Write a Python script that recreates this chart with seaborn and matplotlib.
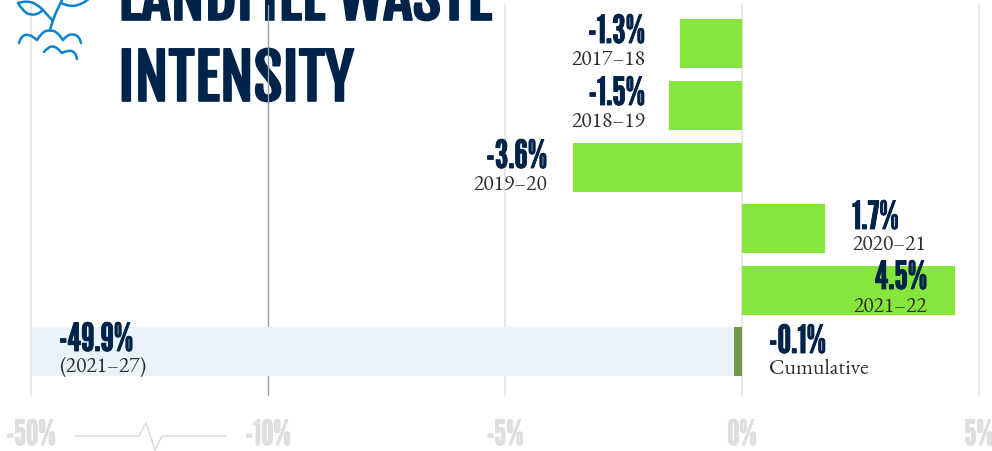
import matplotlib
matplotlib.use('Agg')
import matplotlib.pyplot as plt
import matplotlib.patheffects as pe
from matplotlib.patches import PathPatch
from matplotlib.path import Path
from matplotlib.transforms import Affine2D
import logging
import numpy as np
import pandas as pd
import seaborn as sns

logging.getLogger('matplotlib.font_manager').setLevel(logging.ERROR)

periods = ['2017–18', '2018–19', '2019–20', '2020–21', '2021–22']
changes = [-1.31, -1.54, -3.57, 1.75, 4.49]
change_labels = ['-1.3%', '-1.5%', '-3.6%', '1.7%', '4.5%']
target_value = -49.9
cumulative_value = -0.17
tick_values = [-50, -10, -5, 0, 5]
tick_labels = ['-50%', '-10%', '-5%', '0%', '5%']

NAVY = '#00234a'
COND = ['League Gothic', 'Bebas Neue', 'Liberation Sans', 'DejaVu Sans']
HEAD = ['Fjalla One', 'Bebas Neue', 'Liberation Sans', 'DejaVu Sans']
SERIF = ['EB Garamond', 'Liberation Serif', 'DejaVu Serif']
W, H = 992, 452

sns.set_style('white')


def forward(x):
    x = np.asarray(x, dtype=float)
    return np.where(x < -10, -10 + (x + 10) / 8, x)


def inverse(x):
    x = np.asarray(x, dtype=float)
    return np.where(x < -10, -10 + (x + 10) * 8, x)


def smooth(points):
    # quadratic curve through the midpoints of the given points
    verts, codes = [points[0]], [Path.MOVETO]
    for a, b in zip(points[1:-1], points[2:]):
        verts += [a, ((a[0] + b[0]) / 2, (a[1] + b[1]) / 2)]
        codes += [Path.CURVE3, Path.CURVE3]
    verts.append(points[-1])
    codes.append(Path.LINETO)
    return Path(verts, codes)


def heavy(color, width=0.6):
    return [pe.withStroke(linewidth=width, foreground=color)]


fig = plt.figure(figsize=(W / 100, H / 100), dpi=100, facecolor='white')
ax = fig.add_axes([31 / W, (H - 396) / H, 948 / W, 390 / H], facecolor='none')
px = Affine2D().scale(1, -1).translate(0, H)

rows = periods + ['Cumulative']
df = pd.DataFrame({'period': periods, 'change': changes})
target = pd.DataFrame({'period': ['Cumulative'], 'change': [target_value]})
cumulative = pd.DataFrame({'period': ['Cumulative'], 'change': [cumulative_value]})

sns.barplot(data=df, x='change', y='period', order=rows, color='#86e63c', width=0.795,
            saturation=1, linewidth=0, ax=ax, zorder=3)
sns.barplot(data=target, x='change', y='period', order=rows, color='#eaf3f9', width=0.795,
            saturation=1, linewidth=0, ax=ax, zorder=3)
sns.barplot(data=cumulative, x='change', y='period', order=rows, color='#6f9b47', width=0.795,
            saturation=1, linewidth=0, ax=ax, zorder=4)

ax.set_xscale('function', functions=(forward, inverse))
ax.set_xlim(-50, 5)
ax.set_ylim(5.70, -0.63)
ax.set_xticks(tick_values)
ax.set_xticklabels(tick_labels, fontsize=25, family=COND, color='#dcdee0',
                   path_effects=heavy('#dcdee0', 0.7))
ax.minorticks_off()
ax.set_yticks([])
ax.set_xlabel('')
ax.set_ylabel('')
ax.tick_params(axis='x', length=0, pad=18)
ax.grid(axis='x', color='#e3e3e6', lw=1.2, zorder=1)
ax.set_axisbelow(True)
for line in ax.xaxis.get_gridlines():
    line.set_clip_on(False)
ax.xaxis.get_gridlines()[1].set_color('#9a9bb0')
ax.xaxis.get_gridlines()[1].set_linewidth(1)
sns.despine(ax=ax, left=True, bottom=True)

# value + period labels, pixel anchors
label_anchor = [(645, 'right'), (645, 'right'), (547, 'right'), (852, 'left'), (927, 'right')]
row_y = [44, 106, 169, 230, 290]
sub_y = [65, 127, 190, 250, 312]
for lab, per, (lx, ha), y, y2 in zip(change_labels, periods, label_anchor, row_y, sub_y):
    ax.text(lx, y, lab, transform=px, ha=ha, va='baseline', fontsize=28, family=COND, color=NAVY,
            zorder=6, path_effects=heavy(NAVY))
    ax.text(lx, y2, per, transform=px, ha=ha, va='baseline', fontsize=15.5, family=SERIF,
            color='#2e2e2e', zorder=6)
ax.text(59, 352, '-49.9%', transform=px, va='baseline', fontsize=28, family=COND, color=NAVY,
        zorder=6, path_effects=heavy(NAVY))
ax.text(59, 372, '(2021–27)', transform=px, va='baseline', fontsize=15.5, family=SERIF,
        color='#2e2e2e', zorder=6)
ax.text(769, 354, '-0.1%', transform=px, va='baseline', fontsize=28, family=COND, color=NAVY,
        zorder=6, path_effects=heavy(NAVY))
ax.text(769, 374, 'Cumulative', transform=px, va='baseline', fontsize=15.7, family=SERIF,
        color='#2e2e2e', zorder=6)

# title sits under the grid lines and runs off the top
fig.text(118, 21, 'LANDFILL WASTE', transform=px, va='baseline', fontsize=45, family=HEAD,
         color=NAVY, zorder=-1, path_effects=heavy(NAVY, 1.2))
fig.text(118, 102, 'INTENSITY', transform=px, va='baseline', fontsize=45, family=HEAD,
         color=NAVY, zorder=-1, path_effects=heavy(NAVY, 1.2))

# sapling icon and axis break
deco = fig.add_axes([0, 0, 1, 1], facecolor='none', zorder=5)
deco.set_xlim(0, W)
deco.set_ylim(H, 0)
deco.axis('off')
icon = [
    [(50, 31), (53, 20), (60, 5), (63, -1)],
    [(52, 21), (43, 11)],
    [(43, 11), (37, 5), (27, 2), (18, 4)],
    [(18, 4), (23, 12), (30, 16), (38, 15), (43, 11)],
    [(61, 4), (70, 8), (82, 5), (90, -1)],
    [(19, 44), (21, 37), (29, 35), (37, 41)],
    [(37, 41), (42, 33), (50, 31), (57, 33), (63, 41)],
    [(63, 41), (67, 36), (74, 35), (79, 38), (81, 44)],
    [(44, 53), (48, 48), (55, 47), (62, 54)],
    [(62, 54), (68, 51), (75, 53), (77, 60)],
]
for part in icon:
    deco.add_patch(PathPatch(smooth(part), fill=False, edgecolor='#0a84cf', lw=1.8, capstyle='round'))
deco.plot([75, 139, 146, 155, 162, 226], [437, 437, 424, 451, 437, 437], color='#d9d9dc', lw=1)

fig.savefig('out.png', dpi=100)
